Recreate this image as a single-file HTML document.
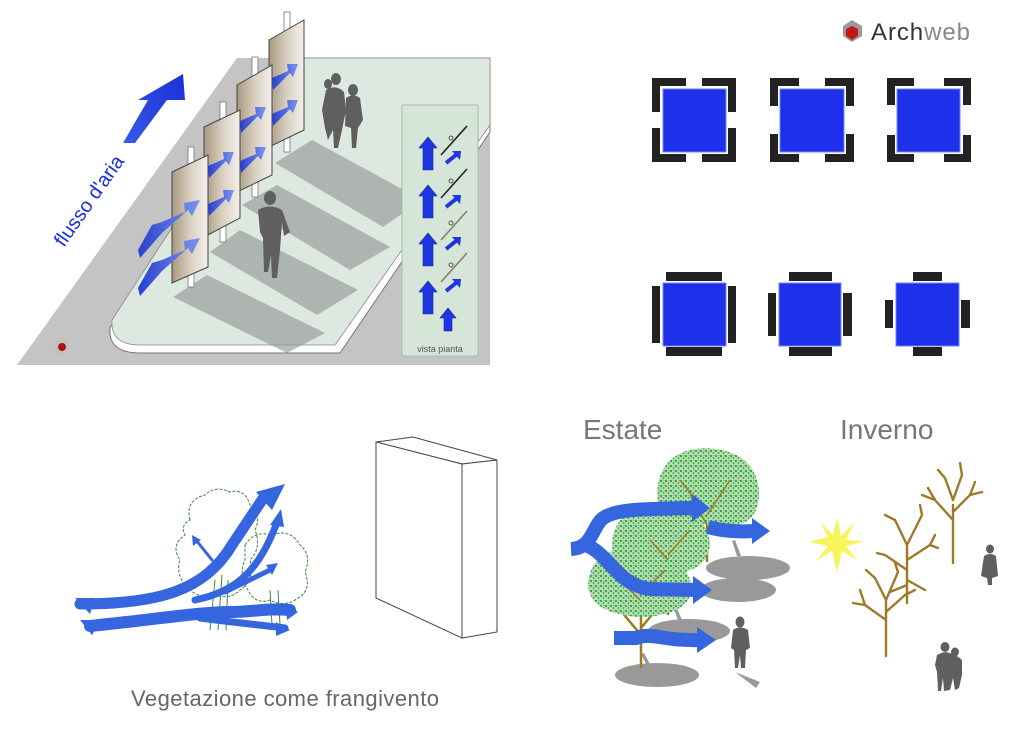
<!DOCTYPE html>
<html><head><meta charset="utf-8">
<style>
html,body{margin:0;padding:0;background:#fff;}
svg{display:block;font-family:"Liberation Sans",sans-serif;}
</style></head>
<body>
<svg width="1024" height="730" viewBox="0 0 1024 730" xmlns="http://www.w3.org/2000/svg">
<defs>
<linearGradient id="pan" x1="0" x2="1" y1="0" y2="0">
<stop offset="0" stop-color="#a89880"/><stop offset="0.5" stop-color="#d8cfc0"/><stop offset="1" stop-color="#f4f0ea"/>
</linearGradient>
<linearGradient id="barr" x1="0" x2="1" y1="0" y2="0">
<stop offset="0" stop-color="#2a3fd0"/><stop offset="1" stop-color="#7a95ee"/>
</linearGradient>
<linearGradient id="bigarr" x1="0" x2="1" y1="1" y2="0">
<stop offset="0" stop-color="#3a5ae8"/><stop offset="1" stop-color="#1a2fd8"/>
</linearGradient>
<pattern id="leaf" width="5" height="5" patternUnits="userSpaceOnUse">
<rect width="5" height="5" fill="#b5dfb0"/>
<circle cx="1" cy="1" r="1" fill="#1f8f2f"/><circle cx="3.5" cy="3" r="0.9" fill="#2f9f3f"/><circle cx="4" cy="0.5" r="0.5" fill="#3aa84a"/>
</pattern>
</defs>

<!-- ===== TOP LEFT ===== -->
<polygon points="17,365 237,58 490,58 490,365" fill="#c4c4c4"/>
<path d="M290,58 L490,58 L490,132 L340,353 L140,353 Q108,353 110,328 L190,200 Z" fill="#fff" stroke="#777" stroke-width="1"/>
<path d="M290,58 L490,58 L490,125 L335,345 L140,345 Q110,345 112,320 L190,200 Z" fill="#dde9e0" stroke="#888" stroke-width="0.8"/>
<g fill="#8f918f" opacity="0.6">
<polygon points="275,163 312,140 422,200 383,227"/>
<polygon points="242,205 277,185 390,247 350,270"/>
<polygon points="210,252 240,230 358,290 317,315"/>
<polygon points="173,297 207,275 325,333 287,353"/>
</g>
<rect x="402" y="105" width="76" height="251" fill="#d5e6d8" stroke="#aab8ad" stroke-width="1"/>
<g fill="#1e35e0" stroke="#1428b0" stroke-width="0.6">
<polygon points="423,170 423,148 419,148 428,137 437,148 433,148 433,170"/>
<polygon points="423,218 423,196 419,196 428,185 437,196 433,196 433,218"/>
<polygon points="423,266 423,244 419,244 428,233 437,244 433,244 433,266"/>
<polygon points="423,314 423,292 419,292 428,281 437,292 433,292 433,314"/>
<polygon points="444,331 444,318 440,318 448,308 456,318 452,318 452,331"/>
</g>
<g stroke="#1e35e0" stroke-width="4">
<line x1="446" y1="163" x2="456" y2="155"/><line x1="446" y1="207" x2="456" y2="199"/>
<line x1="446" y1="249" x2="456" y2="241"/><line x1="446" y1="291" x2="456" y2="283"/>
</g>
<g fill="#1e35e0">
<polygon points="452,151 461,151 460,160"/><polygon points="452,195 461,195 460,204"/>
<polygon points="452,237 461,237 460,246"/><polygon points="452,279 461,279 460,288"/>
</g>
<g stroke-width="1.6">
<line x1="441" y1="155" x2="467" y2="126" stroke="#222"/>
<line x1="441" y1="198" x2="467" y2="169" stroke="#222"/>
<line x1="441" y1="240" x2="467" y2="211" stroke="#8a7e70"/>
<line x1="441" y1="282" x2="467" y2="253" stroke="#8a7e70"/>
</g>
<g fill="none" stroke="#333" stroke-width="0.8">
<circle cx="451" cy="138" r="2"/><circle cx="451" cy="181" r="2"/><circle cx="451" cy="223" r="2"/><circle cx="451" cy="265" r="2"/>
</g>
<text x="440" y="352" font-size="9" fill="#555" text-anchor="middle">vista pianta</text>

<g stroke="#777" stroke-width="0.8" fill="#fff">
<rect x="284" y="12" width="6" height="140"/>
<rect x="252" y="57" width="6" height="140"/>
<rect x="220" y="102" width="6" height="140"/>
<rect x="188" y="147" width="6" height="140"/>
</g>
<g stroke="#444" stroke-width="1">
<polygon points="269,40 304,20 304,130 269,147" fill="url(#pan)"/>
<polygon points="237,85 272,65 272,175 237,192" fill="url(#pan)"/>
<polygon points="204,127 240,110 240,218 204,237" fill="url(#pan)"/>
<polygon points="172,172 208,155 208,267 172,283" fill="url(#pan)"/>
</g>
<g fill="url(#barr)">
<polygon points="272,78 288,71 287,64 298,64 293,77 290,73 273,90"/>
<polygon points="272,114 288,107 287,100 298,100 293,113 290,109 273,126"/>
<polygon points="240,121 256,114 255,107 266,107 261,120 258,116 241,133"/>
<polygon points="240,161 256,154 255,147 266,147 261,160 258,156 241,173"/>
<polygon points="208,166 224,159 223,152 234,152 229,165 226,161 209,178"/>
<polygon points="208,204 224,197 223,190 234,190 229,203 226,199 209,216"/>
<polygon points="138,250 152,225 162,222 185,212 184,203 200,200 192,216 188,210 162,233 140,258"/>
<polygon points="138,288 152,263 162,260 185,250 184,241 200,238 192,254 188,248 162,271 140,296"/>
</g>
<polygon points="123,143 148,100 138,100 183,74 185,100 167,100 135,143" fill="url(#bigarr)"/>
<text x="0" y="0" font-size="20" fill="#1a2fe0" transform="translate(64,248) rotate(-55)">flusso d'aria</text>
<circle cx="62" cy="347" r="4" fill="#b01010"/><circle cx="62" cy="347" r="6" fill="none" stroke="#bbb"/>
<g fill="#5f5f5f">
<ellipse cx="270" cy="198" rx="6" ry="7"/>
<path d="M258,210 Q270,203 282,210 L290,232 L284,236 L282,222 L280,250 L277,278 L272,278 L271,255 L268,272 L264,272 L263,238 L260,232 Z"/>
<ellipse cx="336" cy="79" rx="5" ry="6"/><ellipse cx="328" cy="84" rx="4" ry="5"/>
<path d="M326,90 Q336,84 344,92 L346,110 L342,130 L338,148 L334,148 L333,130 L328,140 L325,128 L322,110 Z"/>
<ellipse cx="353" cy="90" rx="5" ry="6"/>
<path d="M346,98 Q353,93 360,98 L363,120 L358,128 L356,148 L352,148 L351,128 L345,126 Z"/>
</g>

<!-- ===== TOP RIGHT ===== -->
<g>
<polygon points="843,26 852,20 862,26 862,36 852,42 843,36" fill="#9a9a9a"/>
<polygon points="846,29 852,26 858,29 858,36 852,40 846,36" fill="#c01818"/>
<text x="871" y="40" font-size="24" fill="#333" textLength="99">Arch<tspan fill="#888">web</tspan></text>
</g>
<g fill="#222">
<path d="M652,78 h34 v8 h-26 v26 h-8 z M736,78 h-34 v8 h26 v26 h8 z M652,162 h34 v-8 h-26 v-26 h-8 z M736,162 h-34 v-8 h26 v-26 h8 z"/>
<path d="M770,78 h29 v8 h-21 v20 h-8 z M854,78 h-29 v8 h21 v20 h8 z M770,162 h29 v-8 h-21 v-20 h-8 z M854,162 h-29 v-8 h21 v-20 h8 z"/>
<path d="M887,78 h27 v8 h-19 v19 h-8 z M971,78 h-27 v8 h19 v19 h8 z M887,162 h27 v-8 h-19 v-19 h-8 z M971,162 h-27 v-8 h19 v-19 h8 z"/>
<rect x="666" y="272" width="56" height="9"/><rect x="666" y="347" width="56" height="9"/>
<rect x="652" y="286" width="8" height="57"/><rect x="728" y="286" width="8" height="57"/>
<rect x="789" y="272" width="43" height="9"/><rect x="789" y="347" width="43" height="9"/>
<rect x="768" y="293" width="8" height="43"/><rect x="843" y="293" width="9" height="43"/>
<rect x="913" y="272" width="29" height="9"/><rect x="913" y="347" width="29" height="9"/>
<rect x="885" y="300" width="8" height="28"/><rect x="961" y="300" width="9" height="28"/>
</g>
<g fill="#1f30ea" stroke="#6f85ff" stroke-width="1">
<rect x="663" y="89" width="63" height="63"/><rect x="780" y="89" width="64" height="63"/><rect x="897" y="89" width="63" height="63"/>
<rect x="663" y="283" width="63" height="63"/><rect x="779" y="283" width="62" height="63"/><rect x="896" y="283" width="63" height="63"/>
</g>

<!-- ===== BOTTOM LEFT ===== -->
<g fill="none" stroke="#3a8a3a" stroke-width="1" stroke-dasharray="3 1.5">
<path d="M190,520 Q185,500 205,495 Q215,485 230,492 Q245,488 250,505 Q262,515 255,530 Q262,548 250,560 Q255,580 240,590 Q230,600 215,595 Q200,600 188,588 Q175,575 180,560 Q170,545 185,535 Q180,525 190,520 Z"/>
<path d="M245,545 Q255,530 272,535 Q290,528 300,545 Q312,555 305,572 Q312,590 298,598 Q285,608 270,600 Q255,605 248,590 Q238,575 245,560 Z"/>
</g>
<g stroke="#3a8a3a" stroke-width="1" fill="none">
<path d="M210,630 L215,580 M218,630 L222,575 M226,630 L228,580 M272,625 L270,590 M280,625 L278,590"/>
</g>
<g fill="none" stroke="#3566df" stroke-linecap="round">
<path d="M80,604 C160,604 205,590 232,545 L262,500" stroke-width="11"/>
<path d="M195,600 C235,592 258,572 276,525" stroke-width="7"/>
<path d="M225,592 L270,570" stroke-width="5"/>
<path d="M90,626 C150,620 200,612 230,612 C250,612 270,608 290,610" stroke-width="12"/>
<path d="M200,618 C230,622 260,625 285,628" stroke-width="7"/>
<path d="M212,560 L196,540" stroke-width="3"/>
</g>
<g fill="#3566df">
<polygon points="285,484 256,492 272,510"/>
<polygon points="281,509 270,525 284,527"/>
<polygon points="278,563 266,565 272,575"/>
<polygon points="298,612 286,604 287,620"/>
<polygon points="290,630 276,622 276,636"/>
<polygon points="192,535 193,546 201,540"/>
<polygon points="75,598 95,598 90,614"/>
<polygon points="80,620 100,620 92,635"/>
</g>
<g fill="#fff" stroke="#444" stroke-width="1">
<polygon points="376,442 413,437 497,460 462,464"/>
<polygon points="462,464 497,460 497,632 462,638"/>
<polygon points="376,442 462,464 462,638 376,598"/>
</g>
<text x="285" y="706" font-size="22" fill="#666" text-anchor="middle" textLength="308">Vegetazione come frangivento</text>

<!-- ===== BOTTOM RIGHT ===== -->
<text x="583" y="439" font-size="28" fill="#777">Estate</text>
<text x="840" y="439" font-size="28" fill="#777">Inverno</text>
<g fill="#999">
<ellipse cx="748" cy="568" rx="42" ry="12"/>
<ellipse cx="738" cy="590" rx="38" ry="12"/>
<ellipse cx="689" cy="631" rx="41" ry="12"/>
<ellipse cx="657" cy="675" rx="42" ry="12"/>
<path d="M732,541 L737,556 L741,556 L735,540 Z M673,607 L678,620 L682,620 L676,606 Z M641,654 L646,664 L650,664 L644,653 Z M735,672 L756,688 L760,682 Z"/>
</g>
<g stroke="#a07a20" stroke-width="2.5" fill="none">
<path d="M707,562 L707,520 M707,540 L690,515 M707,530 L725,505 M700,520 L680,500"/>
<path d="M668,615 L668,575 M668,590 L650,565 M668,585 L690,565"/>
<path d="M641,668 L641,615 M641,635 L620,610 M641,628 L660,605"/>
</g>
<path d="M657,492 Q660,450 705,448 Q755,450 759,490 Q760,522 735,525 L680,524 Q657,520 657,492 Z" fill="url(#leaf)"/>
<path d="M612,542 Q615,508 655,506 Q707,506 710,545 Q707,572 670,574 L630,572 Q610,562 612,542 Z" fill="url(#leaf)"/>
<path d="M588,585 Q590,550 630,548 Q687,548 692,590 Q687,616 640,617 Q590,614 588,585 Z" fill="url(#leaf)"/>
<g stroke="#a07a20" stroke-width="1.5" fill="none">
<path d="M707,525 L690,495 M707,515 L730,480 M700,505 L680,480 M640,600 L620,580 M640,595 L665,570 M668,560 L650,540 M668,555 L690,530"/>
</g>
<g fill="none" stroke="#3566df" stroke-width="14">
<path d="M571,549 C592,548 592,528 602,519 C614,509 640,509 694,508"/>
<path d="M588,546 C610,556 618,585 650,589 L695,590"/>
<path d="M708,527 C722,531 740,532 754,531"/>
<path d="M614,638 L636,638 C652,632 662,641 700,640"/>
</g>
<g fill="#3566df">
<polygon points="692,494 710,508 692,522"/>
<polygon points="693,576 712,590 693,604"/>
<polygon points="752,518 770,531 752,544"/>
<polygon points="697,627 716,640 697,653"/>
</g>
<g fill="#5f5f5f">
<ellipse cx="740" cy="622" rx="4.5" ry="5.5"/>
<path d="M733,630 Q740,625 748,630 L750,648 L746,650 L745,668 L741,668 L740,655 L738,668 L735,668 L734,650 L731,648 Z"/>
</g>
<polygon fill="#f6f55a" points="837,517 841,536 854,523 846,540 865,541 846,546 857,560 842,551 837,572 832,551 816,561 828,546 809,542 828,537 820,522 833,535"/>
<g stroke="#9c7a28" stroke-width="2.4" fill="none" stroke-linecap="round">
<path d="M953,563 L953,505 M953,520 L935,500 M953,512 L970,495 M953,500 L945,478 M953,500 L962,475 M945,478 L938,470 M962,475 L960,463 M935,500 L922,495 M970,495 L982,492 M935,500 L928,488 M970,495 L975,482"/>
<path d="M907,603 L907,545 M907,570 L885,555 M907,560 L930,545 M907,545 L895,520 M907,545 L922,515 M895,520 L885,515 M922,515 L920,505 M885,555 L877,553 M930,545 L938,548 M930,545 L935,535 M907,580 L925,590 M907,585 L890,592"/>
<path d="M886,656 L886,600 M886,620 L865,605 M886,612 L905,595 M886,600 L875,578 M886,600 L898,572 M875,578 L866,570 M898,572 L895,563 M865,605 L853,603 M905,595 L915,590 M865,605 L860,590"/>
</g>
<g fill="#5f5f5f">
<ellipse cx="990" cy="549" rx="4" ry="4.5"/>
<path d="M984,556 Q990,552 996,556 L998,576 L992,578 L992,585 L988,585 L987,578 L981,576 Z"/>
<ellipse cx="945" cy="647" rx="4.5" ry="5"/><ellipse cx="955" cy="652" rx="4" ry="4.5"/>
<path d="M937,655 Q945,650 952,654 Q958,656 962,660 L962,675 L959,688 L955,690 L953,678 L950,690 L944,691 L943,678 L941,691 L938,691 L937,672 L935,665 Z"/>
</g>
</svg>
</body></html>
